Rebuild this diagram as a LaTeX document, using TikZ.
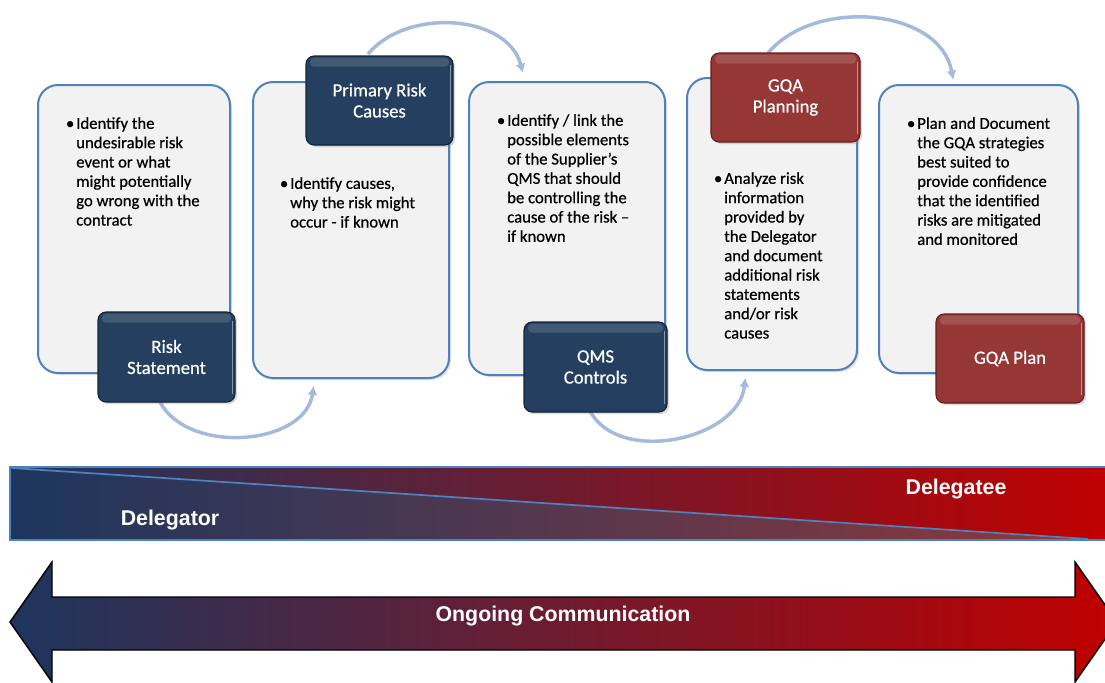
\documentclass[tikz,border=0pt]{standalone}
\usepackage{fontspec}
\setmainfont{Carlito}[RawFeature={embolden=0.6}]
\newfontfamily\bandfont{Liberation Sans}
\usepackage{tikz}
\usetikzlibrary{arrows.meta,shadows}
\definecolor{cardfill}{RGB}{242,242,242}
\definecolor{cardline}{RGB}{79,129,189}
\definecolor{navyfill}{RGB}{36,63,96}
\definecolor{navyline}{RGB}{20,36,58}
\definecolor{redfill}{RGB}{149,55,53}
\definecolor{redline}{RGB}{100,30,28}
\definecolor{arcline}{RGB}{163,186,219}
\definecolor{bandblue}{RGB}{29,54,94}
\definecolor{bandred}{RGB}{192,0,0}
\definecolor{bandmid}{RGB}{128,30,52}
\definecolor{lowmid}{RGB}{96,52,82}
\definecolor{lowred}{RGB}{142,56,60}
\definecolor{arrowmid}{RGB}{122,38,72}
\tikzstyle{card}=[draw=cardline, line width=1.5pt, fill=cardfill, rounded corners=15pt,
  drop shadow={opacity=0.25, shadow xshift=1.5pt, shadow yshift=-1.5pt}]
\tikzstyle{tag}=[line width=0.8pt, rounded corners=6pt, text=white, align=center,
  font=\fontsize{14}{15.8}\selectfont,
  drop shadow={opacity=0.3, shadow xshift=1.5pt, shadow yshift=-1.5pt},
  path picture={\fill[white, opacity=0.14, rounded corners=3pt] ([xshift=3pt,yshift=-1.2pt]path picture bounding box.north west)
    rectangle ([xshift=-3pt,yshift=-8pt]path picture bounding box.north east);
    \draw[white, opacity=0.45, line width=0.9pt] ([xshift=-1.6pt,yshift=-7pt]path picture bounding box.north east)
    -- ([xshift=-1.6pt,yshift=6pt]path picture bounding box.south east);}]
\tikzstyle{navytag}=[tag, draw=navyline, fill=navyfill]
\tikzstyle{redtag}=[tag, draw=redline, fill=redfill]
\tikzstyle{bullets}=[anchor=north west, inner sep=0pt, align=left, font=\fontsize{12.5}{14.5}\selectfont]
\tikzstyle{loop}=[draw=arcline, line width=2.6pt, -{Latex[length=7pt,width=7.5pt]}]
\tikzstyle{bandtext}=[text=white, font=\bandfont\bfseries\fontsize{16}{19}\selectfont]

\begin{document}
\begin{tikzpicture}[x=0.75pt, y=0.75pt]
        \useasboundingbox (0,0) rectangle (1105,-682);
        % cards
        \node [card, minimum width=144pt, minimum height=216pt] (1) at (134,-229) {};
        \node [card, minimum width=147pt, minimum height=222pt] (2) at (351,-230) {};
        \node [card, minimum width=147pt, minimum height=219.75pt] (3) at (567,-228.5) {};
        \node [card, minimum width=127.5pt, minimum height=219pt] (4) at (772,-224) {};
        \node [card, minimum width=149.25pt, minimum height=216pt] (5) at (978.5,-229) {};
        % card texts
        \node [bullets] (t1) at (76,-117) {\llap{\textbullet\hspace{1.5pt}}Identify the\\undesirable risk\\event or what\\might potentially\\go wrong with the\\contract};
        \node [bullets] (t2) at (290,-177) {\llap{\textbullet\hspace{1.5pt}}Identify causes,\\why the risk might\\occur - if known};
        \node [bullets] (t3) at (507,-114) {\llap{\textbullet\hspace{1.5pt}}Identify / link the\\possible elements\\of the Supplier’s\\QMS that should\\be controlling the\\cause of the risk –\\if known};
        \node [bullets] (t4) at (724,-172) {\llap{\textbullet\hspace{1.5pt}}Analyze risk\\information\\provided by\\the Delegator\\and document\\additional risk\\statements\\and/or risk\\causes};
        \node [bullets] (t5) at (917,-117) {\llap{\textbullet\hspace{1.5pt}}Plan and Document\\the GQA strategies\\best suited to\\provide confidence\\that the identified\\risks are mitigated\\and monitored};
        % loops between steps
        \draw [loop, out=-62, in=-98] (160,-402) to ([xshift=-28pt,yshift=-5pt]2.south);
        \draw [loop, out=50, in=105] (368,-54) to ([xshift=-33pt,yshift=6pt]3.north);
        \draw [loop, out=-62, in=-96] (590,-411) to ([xshift=-20pt,yshift=-5pt]4.south);
        \draw [loop, out=50, in=100] (768,-53) to ([xshift=-19pt,yshift=3pt]5.north);
        % step tags
        \node [navytag, minimum width=102.75pt, minimum height=67.5pt] (6) at (166.5,-357) {Risk\\Statement};
        \node [navytag, minimum width=110.25pt, minimum height=66.75pt] (7) at (379.5,-100.5) {Primary Risk\\Causes};
        \node [navytag, minimum width=107.25pt, minimum height=67.5pt] (8) at (595.5,-367) {QMS\\Controls};
        \node [redtag, minimum width=111.75pt, minimum height=66.75pt] (9) at (785.5,-97.5) {GQA\\Planning};
        \node [redtag, minimum width=111pt, minimum height=66.75pt] (10) at (1010,-358.5) {GQA Plan};
        % responsibility band
        \shade [left color=bandblue, middle color=bandmid, right color=bandred] (10,-467) rectangle (1108,-540);
        \shade [left color=bandblue, middle color=lowmid, right color=lowred] (10,-540) -- (12,-468) -- (1088,-540) -- cycle;
        \draw [cardline, line width=1.3pt] (12,-468) -- (1088,-539);
        \draw [cardline, line width=1.5pt] (1108,-467) -- (10,-467) -- (10,-540) -- (1108,-540);
        \node [bandtext] (11) at (170,-520) {Delegator};
        \node [bandtext] (12) at (956,-489) {Delegatee};
        % communication arrow
        \shadedraw [left color=bandblue, middle color=arrowmid, right color=bandred, draw=black, line width=1.1pt]
          (10,-622) -- (52,-562) -- (52,-597) -- (1075,-597) -- (1075,-562) -- (1117,-622)
          -- (1075,-682) -- (1075,-650) -- (52,-650) -- (52,-682) -- cycle;
        \node [bandtext] (13) at (563,-616) {Ongoing Communication};
\end{tikzpicture}
\end{document}
